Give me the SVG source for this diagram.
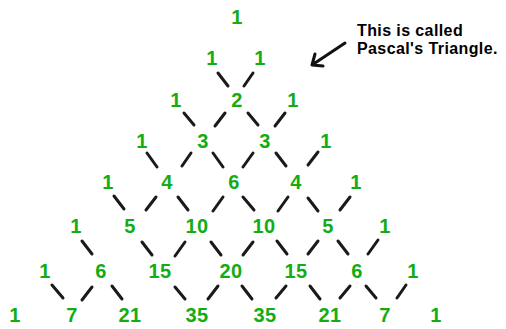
<svg xmlns="http://www.w3.org/2000/svg" width="506" height="329" viewBox="0 0 506 329">
<style>
.n{font-family:"Liberation Sans",Arial,sans-serif;font-size:20px;font-weight:bold;fill:#13ad13;text-anchor:middle;letter-spacing:0.5px}
.c line{stroke:#1a1a1a;stroke-width:3;stroke-linecap:round}
.note{font-family:"Liberation Sans",Arial,sans-serif;font-size:16px;font-weight:bold;fill:#000;letter-spacing:0.4px}
.arrow{stroke:#111;stroke-width:3;fill:none;stroke-linecap:round;stroke-linejoin:round}
</style>
<rect width="506" height="329" fill="#fff"/>
<g id="connectors" class="c">
<line x1="218" y1="73" x2="228" y2="86"/><line x1="253" y1="73" x2="244" y2="86"/>
<line x1="184" y1="113" x2="194" y2="125"/><line x1="225" y1="113" x2="215" y2="126"/>
<line x1="248" y1="113" x2="258" y2="125"/><line x1="285" y1="113" x2="275" y2="126"/>
<line x1="147" y1="153" x2="157" y2="167"/><line x1="191" y1="153" x2="182" y2="166"/>
<line x1="213" y1="153" x2="223" y2="167"/><line x1="253" y1="153" x2="243" y2="167"/>
<line x1="276" y1="153" x2="286" y2="166"/><line x1="318" y1="152" x2="308" y2="165"/>
<line x1="114" y1="196" x2="124" y2="209"/><line x1="156" y1="197" x2="146" y2="210"/>
<line x1="178" y1="197" x2="188" y2="210"/><line x1="223" y1="197" x2="213" y2="211"/>
<line x1="243" y1="197" x2="254" y2="210"/><line x1="288" y1="197" x2="278" y2="211"/>
<line x1="308" y1="198" x2="318" y2="211"/><line x1="350" y1="197" x2="340" y2="210"/>
<line x1="82" y1="241" x2="92" y2="254"/>
<line x1="142" y1="242" x2="152" y2="255"/><line x1="185" y1="242" x2="175" y2="256"/>
<line x1="211" y1="242" x2="221" y2="255"/><line x1="253" y1="242" x2="243" y2="255"/>
<line x1="277" y1="241" x2="287" y2="254"/><line x1="318" y1="241" x2="308" y2="254"/>
<line x1="338" y1="241" x2="348" y2="254"/><line x1="378" y1="240" x2="368" y2="254"/>
<line x1="52" y1="285" x2="63" y2="298"/><line x1="92" y1="287" x2="82" y2="300"/>
<line x1="112" y1="286" x2="122" y2="299"/>
<line x1="175" y1="287" x2="185" y2="299"/><line x1="218" y1="286" x2="208" y2="299"/>
<line x1="242" y1="286" x2="252" y2="299"/><line x1="286" y1="286" x2="276" y2="298"/>
<line x1="310" y1="286" x2="320" y2="299"/><line x1="350" y1="286" x2="340" y2="298"/>
<line x1="366" y1="286" x2="376" y2="298"/><line x1="406" y1="285" x2="397" y2="298"/>
</g>
<g id="r0"><text class="n" x="237" y="24">1</text></g>
<g id="r1"><text class="n" x="212" y="65">1</text><text class="n" x="260" y="65">1</text></g>
<g id="r2"><text class="n" x="176" y="107">1</text><text class="n" x="237" y="107">2</text><text class="n" x="293" y="107">1</text></g>
<g id="r3"><text class="n" x="142" y="148">1</text><text class="n" x="203" y="148">3</text><text class="n" x="265" y="148">3</text><text class="n" x="326" y="148">1</text></g>
<g id="r4"><text class="n" x="108" y="189">1</text><text class="n" x="167" y="189">4</text><text class="n" x="234" y="189">6</text><text class="n" x="296" y="189">4</text><text class="n" x="356" y="189">1</text></g>
<g id="r5"><text class="n" x="76" y="233">1</text><text class="n" x="130" y="233">5</text><text class="n" x="197" y="233">10</text><text class="n" x="264" y="233">10</text><text class="n" x="328" y="233">5</text><text class="n" x="385" y="233">1</text></g>
<g id="r6"><text class="n" x="45" y="278">1</text><text class="n" x="101" y="278">6</text><text class="n" x="160" y="278">15</text><text class="n" x="231" y="278">20</text><text class="n" x="296" y="278">15</text><text class="n" x="357" y="278">6</text><text class="n" x="413" y="278">1</text></g>
<g id="r7"><text class="n" x="15" y="322">1</text><text class="n" x="72" y="322">7</text><text class="n" x="130" y="322">21</text><text class="n" x="197" y="322">35</text><text class="n" x="265" y="322">35</text><text class="n" x="330" y="322">21</text><text class="n" x="385" y="322">7</text><text class="n" x="436" y="322">1</text></g>
<g id="note">
<text class="note" x="357" y="36">This is called</text>
<text class="note" x="357" y="54">Pascal's Triangle.</text>
<path class="arrow" d="M345,43 L312,65 M323,66 L312,65 L315,54"/>
</g>
</svg>
